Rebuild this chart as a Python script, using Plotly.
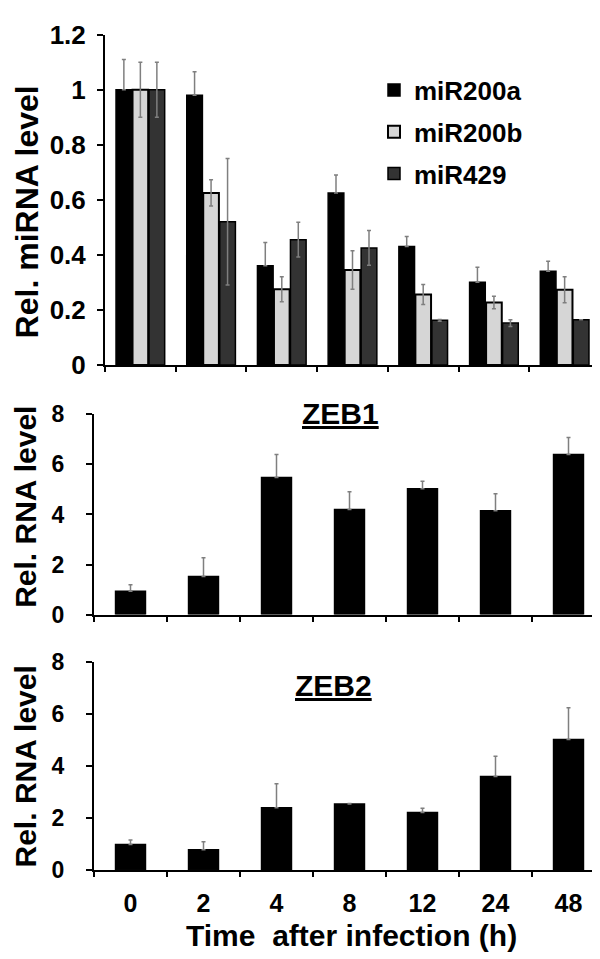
import plotly.graph_objects as go

times = ["0", "2", "4", "8", "12", "24", "48"]

mir200a = [1.00, 0.98, 0.36, 0.625, 0.43, 0.30, 0.34]
mir200a_err = [0.11, 0.085, 0.085, 0.065, 0.037, 0.055, 0.037]
mir200b = [1.00, 0.625, 0.275, 0.345, 0.256, 0.227, 0.273]
mir200b_err = [0.10, 0.048, 0.045, 0.07, 0.036, 0.023, 0.047]
mir429 = [1.00, 0.52, 0.455, 0.425, 0.162, 0.152, 0.164]
mir429_err = [0.10, 0.23, 0.063, 0.063, 0.003, 0.012, 0.0]

zeb1 = [0.93, 1.52, 5.48, 4.20, 5.03, 4.15, 6.40]
zeb1_err = [0.26, 0.75, 0.92, 0.71, 0.30, 0.68, 0.68]
zeb2 = [0.98, 0.78, 2.40, 2.54, 2.21, 3.60, 5.03]
zeb2_err = [0.17, 0.31, 0.92, 0.02, 0.17, 0.78, 1.22]

FONT = "Liberation Sans, Arial, sans-serif"
H = 959.0
W = 600.0


def py(px):
    return 1 - px / H


err_style = dict(color="#7f7f7f", thickness=1.5, width=2)
line_style = dict(color="#000000", width=1.5)

fig = go.Figure()

fig.add_trace(go.Bar(x=times, y=mir200a, name="miR200a", marker=dict(color="#000000", line=line_style),
                     error_y=dict(type="data", array=mir200a_err, arrayminus=[0] * 7, symmetric=False, **err_style),
                     xaxis="x", yaxis="y", legendgroup="a"))
fig.add_trace(go.Bar(x=times, y=mir200b, name="miR200b", marker=dict(color="#d6d6d6", line=dict(color="#000", width=2)),
                     error_y=dict(type="data", array=mir200b_err, **err_style),
                     xaxis="x", yaxis="y", legendgroup="b"))
fig.add_trace(go.Bar(x=times, y=mir429, name="miR429", marker=dict(color="#333333", line=line_style),
                     error_y=dict(type="data", array=mir429_err, **err_style),
                     xaxis="x", yaxis="y", legendgroup="c"))

fig.add_trace(go.Bar(x=times, y=zeb1, name="ZEB1", width=0.41, showlegend=False,
                     marker=dict(color="#000000", line=line_style),
                     error_y=dict(type="data", array=zeb1_err, arrayminus=[0] * 7, symmetric=False, **err_style),
                     xaxis="x2", yaxis="y2"))
fig.add_trace(go.Bar(x=times, y=zeb2, name="ZEB2", width=0.41, showlegend=False,
                     marker=dict(color="#000000", line=line_style),
                     error_y=dict(type="data", array=zeb2_err, arrayminus=[0] * 7, symmetric=False, **err_style),
                     xaxis="x3", yaxis="y3"))

xcommon = dict(type="category", categoryorder="array", categoryarray=times,
               showline=True, linecolor="#000", linewidth=2, ticks="outside", tickson="boundaries",
               ticklen=5, tickwidth=2, tickcolor="#000", showgrid=False, zeroline=False,
               range=[-0.5, 6.5], fixedrange=True)
ycommon = dict(showline=True, linecolor="#000", linewidth=2, ticks="outside", ticklen=6, tickwidth=2,
               tickcolor="#000", showgrid=False, zeroline=False, fixedrange=True)

fig.update_layout(
    width=600, height=959,
    margin=dict(l=0, r=0, t=0, b=0),
    paper_bgcolor="white", plot_bgcolor="white",
    font=dict(family=FONT, color="#000", weight="bold"),
    barmode="group", bargap=0.3, bargroupgap=0.05,
    showlegend=True,
    legend=dict(x=366 / W, y=py(45), xanchor="left", yanchor="top",
                font=dict(size=26, family=FONT, weight="bold"),
                tracegroupgap=5, traceorder="grouped", bgcolor="rgba(0,0,0,0)",
                itemwidth=30),
    xaxis=dict(domain=[97 / W, 592 / W], anchor="y", showticklabels=False, **xcommon),
    yaxis=dict(domain=[py(353), py(12)], anchor="x", range=[0, 1.2], dtick=0.2,
               tickfont=dict(size=26, family=FONT, weight="bold"), ticklabelstandoff=6, **ycommon),
    xaxis2=dict(domain=[86 / W, 597 / W], anchor="y2", showticklabels=False, **xcommon),
    yaxis2=dict(domain=[py(610.7), py(404)], anchor="x2", range=[0, 8], dtick=2,
                tickfont=dict(size=23, family=FONT, weight="bold"), ticklabelstandoff=17, **ycommon),
    xaxis3=dict(domain=[86 / W, 597 / W], anchor="y3", showticklabels=True,
                tickfont=dict(size=25, family=FONT, weight="bold"), ticklabelstandoff=10, **xcommon),
    yaxis3=dict(domain=[py(874.3), py(660)], anchor="x3", range=[0, 8], dtick=2,
                tickfont=dict(size=23, family=FONT, weight="bold"), ticklabelstandoff=17, **ycommon),
)

ann_font = dict(family=FONT, weight="bold", color="#000")
fig.add_annotation(x=18.5 / W, y=py(195), xref="paper", yref="paper", text="Rel. miRNA level", textangle=-90,
                   showarrow=False, xanchor="center", yanchor="middle", font=dict(size=32, **ann_font))
fig.add_annotation(x=17.5 / W, y=py(500), xref="paper", yref="paper", text="Rel. RNA level", textangle=-90,
                   showarrow=False, xanchor="center", yanchor="middle", font=dict(size=30, **ann_font))
fig.add_annotation(x=17.5 / W, y=py(768), xref="paper", yref="paper", text="Rel. RNA level", textangle=-90,
                   showarrow=False, xanchor="center", yanchor="middle", font=dict(size=30, **ann_font))
fig.add_annotation(x=332 / W, y=py(403), xref="paper", yref="paper", text="<u>ZEB1</u>",
                   showarrow=False, xanchor="center", yanchor="middle", font=dict(size=30, **ann_font))
fig.add_annotation(x=325 / W, y=py(684), xref="paper", yref="paper", text="<u>ZEB2</u>",
                   showarrow=False, xanchor="center", yanchor="middle", font=dict(size=30, **ann_font))
fig.add_annotation(x=343 / W, y=py(941.5), xref="paper", yref="paper", text="Time\u00a0 after infection (h)",
                   showarrow=False, xanchor="center", yanchor="middle", font=dict(size=30, **ann_font))

fig.write_html("out.html")
